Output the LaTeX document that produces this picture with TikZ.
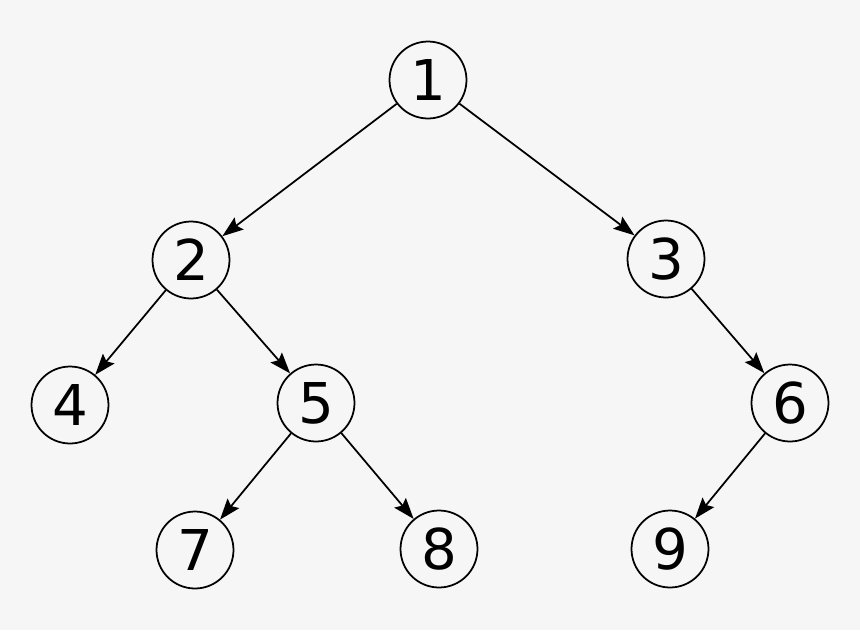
\documentclass[tikz,border=0pt]{standalone}
\usepackage{fontspec}
\setmainfont{DejaVu Sans}
\usetikzlibrary{arrows.meta}
\definecolor{bgGray}{RGB}{246,246,246}

\begin{document}
\begin{tikzpicture}[x=0.02cm, y=-0.02cm,
    treenode/.style={circle, draw=black, line width=1pt, fill=bgGray,
      minimum size=1.54cm, inner sep=0pt, font=\fontsize{32}{36}\selectfont},
    treeedge/.style={line width=1pt,
      -{Stealth[length=0.42cm, width=0.3cm, inset=0.07cm]}}]
    % background
    \fill[bgGray] (0,0) rectangle (860,630);
    \useasboundingbox (0,0) rectangle (860,630);
    % nodes
    \node[treenode] (n1) at (428, 80) {1};
    \node[treenode] (n2) at (191,260) {2};
    \node[treenode] (n3) at (666,259) {3};
    \node[treenode] (n4) at (70,405) {4};
    \node[treenode] (n5) at (316,403) {5};
    \node[treenode] (n6) at (790,403) {6};
    \node[treenode] (n7) at (195,550) {7};
    \node[treenode] (n8) at (439,549) {8};
    \node[treenode] (n9) at (670,549) {9};
    % edges
    \draw[treeedge] (n1) -- (n2);
    \draw[treeedge] (n1) -- (n3);
    \draw[treeedge] (n2) -- (n4);
    \draw[treeedge] (n2) -- (n5);
    \draw[treeedge] (n3) -- (n6);
    \draw[treeedge] (n5) -- (n7);
    \draw[treeedge] (n5) -- (n8);
    \draw[treeedge] (n6) -- (n9);
\end{tikzpicture}
\end{document}
